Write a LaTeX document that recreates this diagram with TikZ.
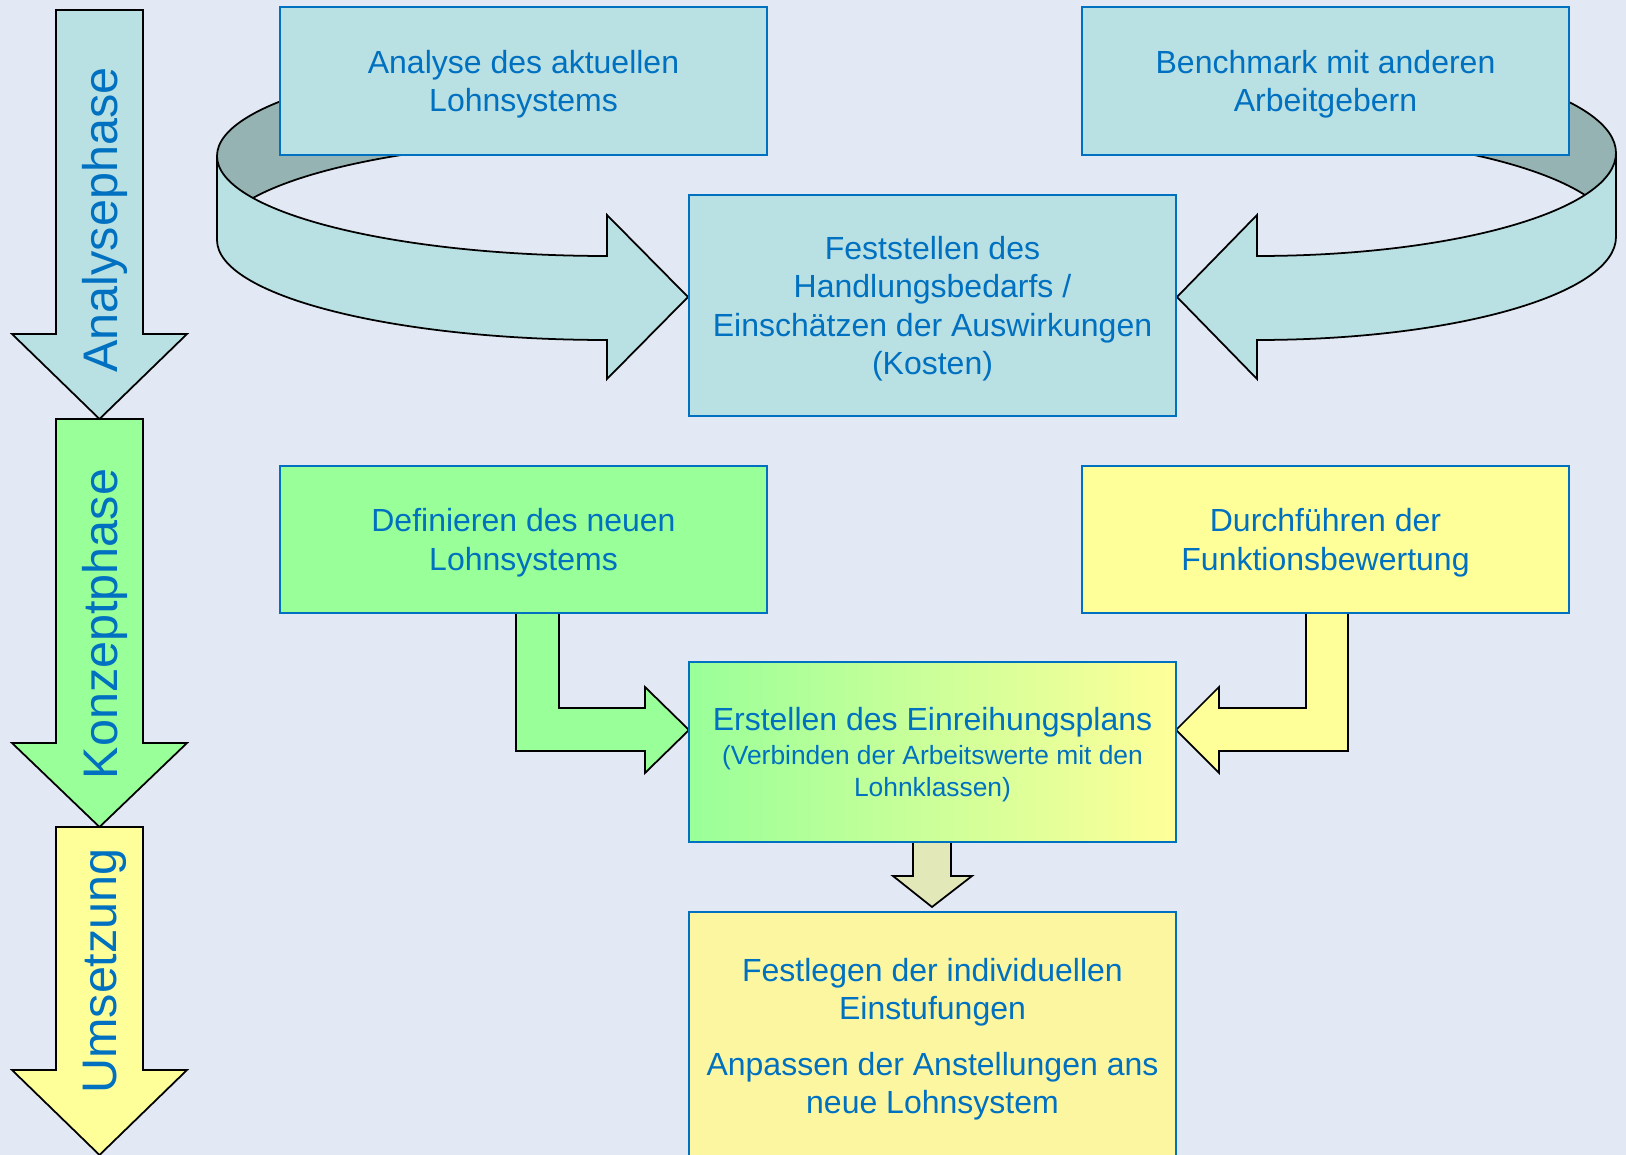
\documentclass[tikz,border=0pt]{standalone}
\usepackage{fontspec}
\setmainfont{Liberation Sans}
\usetikzlibrary{positioning}
\definecolor{bgblue}{HTML}{E3E9F4}
\definecolor{txtblue}{HTML}{0070C0}
\definecolor{tealbox}{HTML}{B9E0E3}
\definecolor{tealback}{HTML}{96B3B4}
\definecolor{greenbox}{HTML}{99FF99}
\definecolor{yellowbox}{HTML}{FFFF99}
\definecolor{paleyellow}{HTML}{FCF6A0}
\definecolor{olivearr}{HTML}{E3E8B9}

\begin{document}
\begin{tikzpicture}[
  x=0.01cm, y=-0.01cm,
  box/.style={draw=txtblue, line width=0.6pt, minimum width=4.87cm, align=center,
    text=txtblue, font=\fontsize{9.1}{10.9}\selectfont, inner sep=0pt, text depth=0pt},
  blk/.style={draw=black, line width=0.5pt, line join=miter},
  phase/.style={rotate=90, text=txtblue, font=\fontsize{13.8}{16}\selectfont}
]
\useasboundingbox (0,0) rectangle (1626,1155);
\fill[bgblue] (0,0) rectangle (1626,1155);

% phases
\foreach \t/\w/\b/\c in {10/334/419/tealbox, 419/743/827/greenbox, 827/1070/1155/yellowbox}
  \draw[blk, fill=\c] (56,\t) -- (56,\w) -- (12,\w) -- (99.5,\b) -- (187,\w) -- (143,\w) -- (143,\t) -- cycle;
\node[phase] (ph1) at (105,220) {Analysephase};
\node[phase] (ph2) at (105,624) {Konzeptphase};
\node[phase] (ph3) at (105,971) {Umsetzung};

% ribbons
\draw[blk, fill=tealback] (217,156) arc[start angle=180, end angle=270, x radius=390, y radius=100]
  -- (607,140) arc[start angle=270, end angle=180, x radius=390, y radius=100] -- cycle;
\draw[blk, fill=tealbox] (217,156) arc[start angle=180, end angle=90, x radius=390, y radius=100]
  -- (607,215) -- (688,297) -- (607,379) -- (607,340)
  arc[start angle=90, end angle=180, x radius=390, y radius=100] -- cycle;
\draw[blk, fill=tealback] (1616,153) arc[start angle=0, end angle=-90, x radius=359, y radius=103]
  -- (1257,134) arc[start angle=-90, end angle=0, x radius=359, y radius=103] -- cycle;
\draw[blk, fill=tealbox] (1616,153) arc[start angle=0, end angle=90, x radius=359, y radius=103]
  -- (1257,215) -- (1177,297) -- (1257,379) -- (1257,340)
  arc[start angle=90, end angle=0, x radius=359, y radius=103] -- cycle;

% elbows
\draw[blk, fill=greenbox] (516,600) -- (516,751) -- (645,751) -- (645,773) -- (689,730)
  -- (645,687) -- (645,708) -- (559,708) -- (559,600) -- cycle;
\draw[blk, fill=yellowbox] (1348,600) -- (1348,751) -- (1219,751) -- (1219,773) -- (1176,730)
  -- (1219,687) -- (1219,708) -- (1306,708) -- (1306,600) -- cycle;
\draw[blk, fill=olivearr] (913,830) -- (913,876) -- (893,876) -- (932,907) -- (972,876)
  -- (951,876) -- (951,830) -- cycle;

% boxes
\node[box, fill=tealbox, minimum height=1.48cm] (ana) at (523.5,81)
  {Analyse des aktuellen\\Lohnsystems};
\node[box, fill=tealbox, minimum height=1.48cm] (bench) at (1325.5,81)
  {Benchmark mit anderen\\Arbeitgebern};
\node[box, fill=tealbox, minimum height=2.21cm] (fest) at (932.5,305.5)
  {Feststellen des\\Handlungsbedarfs /\\Einschätzen der Auswirkungen\\(Kosten)};
\node[box, fill=greenbox, minimum height=1.47cm] (def) at (523.5,539.5)
  {Definieren des neuen\\Lohnsystems};
\node[box, fill=yellowbox, minimum height=1.47cm] (durch) at (1325.5,539.5)
  {Durchführen der\\Funktionsbewertung};
\node[box, left color=greenbox, right color=yellowbox, minimum height=1.8cm,
  font=\fontsize{7.5}{9.1}\selectfont] (erst) at (932.5,752)
  {{\fontsize{9.1}{10.9}\selectfont Erstellen des Einreihungsplans}\\[0.6pt]
   (Verbinden der Arbeitswerte mit den\\Lohnklassen)};
\node[box, fill=paleyellow, minimum height=2.48cm] (festl) at (932.5,1036)
  {Festlegen der individuellen\\Einstufungen\\[5pt]Anpassen der Anstellungen ans\\neue Lohnsystem};
\end{tikzpicture}
\end{document}
